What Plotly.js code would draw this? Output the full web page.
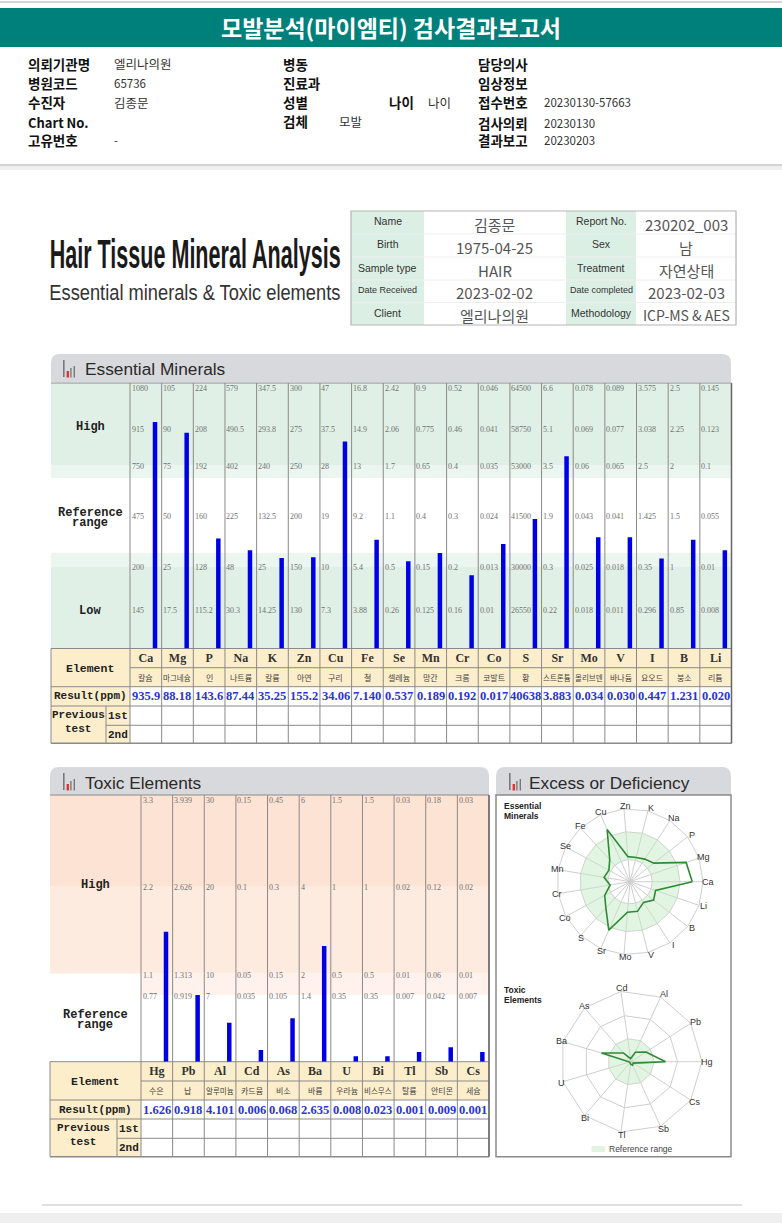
<!DOCTYPE html>
<html><head><meta charset="utf-8">
<script src="https://cdn.plot.ly/plotly-3.0.1.min.js"></script>
<style>html,body{margin:0;padding:0;background:#fff}#p{width:782px;height:1223px}</style>
</head><body><div id="p"></div>
<script>
const W = 782, H = 1223;
// ---------- Data ----------
const essSymbols = ['Ca','Mg','P','Na','K','Zn','Cu','Fe','Se','Mn','Cr','Co','S','Sr','Mo','V','I','B','Li'];
const essKorean = ['칼슘','마그네슘','인','나트륨','칼륨','아연','구리','철','셀레늄','망간','크롬','코발트','황','스트론튬','몰리브덴','바나듐','요오드','붕소','리튬'];
const essResult = ['935.9','88.18','143.6','87.44','35.25','155.2','34.06','7.140','0.537','0.189','0.192','0.017','40638','3.883','0.034','0.030','0.447','1.231','0.020'];
const essLevel = [85.3,81.3,41.4,37.0,34.1,34.4,78.0,41.0,32.9,36.0,27.6,39.4,48.8,72.4,41.9,41.9,33.9,41.0,37.0];
const essTop = ['1080','105','224','579','347.5','300','47','16.8','2.42','0.9','0.52','0.046','64500','6.6','0.078','0.089','3.575','2.5','0.145'];
const essHigh = ['915','90','208','490.5','293.8','275','37.5','14.9','2.06','0.775','0.46','0.041','58750','5.1','0.069','0.077','3.038','2.25','0.123'];
const essUpper = ['750','75','192','402','240','250','28','13','1.7','0.65','0.4','0.035','53000','3.5','0.06','0.065','2.5','2','0.1'];
const essMid = ['475','50','160','225','132.5','200','19','9.2','1.1','0.4','0.3','0.024','41500','1.9','0.043','0.041','1.425','1.5','0.055'];
const essLower = ['200','25','128','48','25','150','10','5.4','0.5','0.15','0.2','0.013','30000','0.3','0.025','0.018','0.35','1','0.01'];
const essLow = ['145','17.5','115.2','30.3','14.25','130','7.3','3.88','0.26','0.125','0.16','0.01','26550','0.22','0.018','0.011','0.296','0.85','0.008'];
const essRows = [essTop,essHigh,essUpper,essMid,essLower,essLow];
const essRowLevels = [98.1,82.6,68.5,49.6,30.4,14.3];

const toxSymbols = ['Hg','Pb','Al','Cd','As','Ba','U','Bi','Tl','Sb','Cs'];
const toxKorean = ['수은','납','알루미늄','카드뮴','비소','바륨','우라늄','비스무스','탈륨','안티몬','세슘'];
const toxResult = ['1.626','0.918','4.101','0.006','0.068','2.635','0.008','0.023','0.001','0.009','0.001'];
const toxLevel = [48.75,25.0,14.6,4.4,16.25,43.4,2.0,2.0,3.6,5.4,3.6];
const toxTop = ['3.3','3.939','30','0.15','0.45','6','1.5','1.5','0.03','0.18','0.03'];
const toxHigh = ['2.2','2.626','20','0.1','0.3','4','1','1','0.02','0.12','0.02'];
const toxUpper = ['1.1','1.313','10','0.05','0.15','2','0.5','0.5','0.01','0.06','0.01'];
const toxRef = ['0.77','0.919','7','0.035','0.105','1.4','0.35','0.35','0.007','0.042','0.007'];
const toxRows = [toxTop,toxHigh,toxUpper,toxRef];
const toxRowLevels = [98,65.5,32.5,24.6];

const infoLeft = [['의뢰기관명','엘리나의원'],['병원코드','65736'],['수진자','김종문'],['Chart No.',''],['고유번호','-']];
const infoMid = ['병동','진료과','성별','','검체'];
const infoRight = [['담당의사',''],['임상정보',''],['접수번호','20230130-57663'],['검사의뢰','20230130'],['결과보고','20230203']];
const infoRowY = [64,83,102,123,140];
const idTable = [['Name','김종문','Report No.','230202_003'],['Birth','1975-04-25','Sex','남'],['Sample type','HAIR','Treatment','자연상태'],['Date Received','2023-02-02','Date completed','2023-02-03'],['Client','엘리나의원','Methodology','ICP-MS & AES']];

// ---------- Helpers ----------
const px = x => x / W, py = y => 1 - y / H;
const KR = '"Noto Sans CJK KR","Noto Sans",sans-serif', MONO = '"Liberation Mono",monospace', SANS = '"Liberation Sans",Arial,sans-serif', SERIF = '"Liberation Serif",serif';
const shapes = [], annotations = [];
const rect = (x0,y0,x1,y1,fill,line,lw) => shapes.push({type:'rect',xref:'paper',yref:'paper',x0:px(x0),x1:px(x1),y0:py(y0),y1:py(y1),fillcolor:fill||'rgba(0,0,0,0)',line:{color:line||'rgba(0,0,0,0)',width:line?(lw||1):0},layer:'below'});
const line = (x0,y0,x1,y1,c,w) => shapes.push({type:'line',xref:'paper',yref:'paper',x0:px(x0),x1:px(x1),y0:py(y0),y1:py(y1),line:{color:c,width:w||1},layer:'below'});
const txt = (x,y,t,size,color,family,anchor,weight) => annotations.push({xref:'paper',yref:'paper',x:px(x),y:py(y),text:t,showarrow:false,xanchor:anchor||'center',yanchor:'middle',borderpad:0,font:{size,color:color||'#222',family:family||SANS,weight:weight||'normal'}});
function tab(x0,y0,x1,y1){const r=9;
  shapes.push({type:'path',xref:'paper',yref:'paper',layer:'below',fillcolor:'#d8d9dd',line:{width:0},
   path:`M ${px(x0)} ${py(y1)} L ${px(x0)} ${py(y0+r)} Q ${px(x0)} ${py(y0)} ${px(x0+r)} ${py(y0)} L ${px(x1-r)} ${py(y0)} Q ${px(x1)} ${py(y0)} ${px(x1)} ${py(y0+r)} L ${px(x1)} ${py(y1)} Z`});}
function icon(x,y){ rect(x,y,x+1.6,y+17,'#77787c'); rect(x+3.6,y+11,x+6,y+17.5,'#e2332c'); rect(x+7.2,y+8,x+8.6,y+17.5,'#77787c'); rect(x+10.6,y+6,x+12,y+17.5,'#77787c'); }

// ---------- Header ----------
line(0,2,W,2,'#aaaaaa',1);
rect(0,8,W,47,'#00807a');
rect(0,166,W,170,'#efefef'); line(0,165,W,165,'#a8a8a8',1);
rect(0,1213,W,H,'#efefef'); line(42,1205,742,1205,'#c0c0c0',1);
const lblSize = t => /^[A-Za-z]/.test(t) ? 13 : 13.5;
const valSize = t => /^[0-9-]/.test(t) ? 11.5 : 12.5;
infoLeft.forEach((r,i)=>{ txt(27,infoRowY[i],r[0],lblSize(r[0]),'#111',KR,'left','bold'); if(r[1]) txt(113,infoRowY[i],r[1],valSize(r[1]),'#333',KR,'left'); });
infoMid.forEach((t,i)=>{ if(t) txt(282,i===4?121:infoRowY[i],t,13.5,'#111',KR,'left','bold'); });
txt(388,102,'나이',13.5,'#111',KR,'left','bold'); txt(427,102,'나이',12.5,'#333',KR,'left'); txt(338,121,'모발',12.5,'#333',KR,'left');
infoRight.forEach((r,i)=>{ txt(477,infoRowY[i],r[0],13.5,'#111',KR,'left','bold'); if(r[1]) txt(543,infoRowY[i],r[1],valSize(r[1]),'#333',KR,'left'); });

// ---------- Title block ----------
const headline = 'Hair Tissue Mineral Analysis', subhead = 'Essential minerals & Toxic elements';
txt(194.5,255,headline,21.5,'#1a1a1a',SANS,'center','bold');
txt(194.5,292,subhead.replace('&','&amp;'),18.7,'#333',SANS,'center');
const idX=[351,424,566,636,736], idY=[211,234,257,280,302.5,325];
idTable.forEach((row,r)=>{
  rect(idX[0],idY[r],idX[1],idY[r+1],'#dcefe4'); rect(idX[2],idY[r],idX[3],idY[r+1],'#dcefe4');
  row.forEach((t,c)=>{ const lbl=c%2===0; const s=lbl?(t.length>12?9:10.5):(t.length>10?14:15);
    txt((idX[c]+idX[c+1])/2,(idY[r]+idY[r+1])/2+(lbl?-1:1.5),t.replace('&','&amp;'),s,lbl?'#333':'#555',lbl?SANS:KR); });
  if(r) line(idX[0],idY[r],idX[4],idY[r],'#eeeeee',1);
});
rect(351,211,736,325,null,'#b5b5b5',1.2);

// ---------- Section tabs ----------
tab(51,354,731,382); icon(63,360); txt(84,369,'Essential Minerals',17.3,'#2a2a2a',SANS,'left');
tab(50,767,489,795); icon(63,773); txt(84,783,'Toxic Elements',17.3,'#2a2a2a',SANS,'left');
tab(496,767,731,795); icon(509,773); txt(528,783,'Excess or Deficiency',17.3,'#2a2a2a',SANS,'left');

// ---------- Panels ----------
const E = {x0:130,x1:731.5,top:383,bot:648.5,left:51,rows:[667.7,686.7,706,725.3,743.3],prev:106};
const T = {x0:141,x1:489,top:795,bot:1061.7,left:50,rows:[1081,1100,1119,1138.3,1156.7],prev:117};
const CREAM='#fdeecb', GRID='#8a8a8a';
rect(E.left,E.top,E.x1,465,'#e0f0e6'); rect(E.left,465,E.x1,478,'#ecf6f0');
rect(E.left,553,E.x1,566.5,'#ecf6f0'); rect(E.left,566.5,E.x1,E.bot,'#e0f0e6');
rect(T.left,T.top,T.x1,886.7,'#fde3d3'); rect(T.left,886.7,T.x1,973.5,'#fdebe0'); rect(T.x0,973.5,T.x1,995,'#fff2ec');

function panel(P,n){
  const cw=(P.x1-P.x0)/n, R=P.rows;
  rect(P.left,P.bot,P.x1,R[1],CREAM);
  rect(P.left,R[1],P.x0,R[4],CREAM);
  for(let i=0;i<=n;i++) line(P.x0+i*cw,P.top,P.x0+i*cw,R[4],GRID,1);
  line(P.left,P.bot,P.x1,P.bot,GRID,1); line(P.x0,R[0],P.x1,R[0],GRID,1);
  [R[1],R[2]].forEach(y=>line(P.left,y,P.x1,y,GRID,1));
  line(P.prev,R[3],P.x1,R[3],GRID,1); line(P.left,R[4],P.x1,R[4],GRID,1.5);
  line(P.prev,R[2],P.prev,R[4],GRID,1); line(P.left,P.bot,P.left,R[4],GRID,1);
  line(P.x1,P.top,P.x1,R[4],'#666',1.5); line(P.left,P.top,P.x1,P.top,GRID,1);
}
panel(E,essSymbols.length);
panel(T,toxSymbols.length);

function cellTexts(P,syms,kor,res,rows,levels,xa,ya){
  const R=P.rows, cw=(P.x1-P.x0)/syms.length;
  syms.forEach((s,i)=>{
    rows.forEach((row,k)=>annotations.push({xref:xa,yref:ya,x:s,y:levels[k],text:row[i],showarrow:false,xanchor:'left',yanchor:'middle',xshift:-cw/2+0.5,borderpad:0,font:{size:8,color:'#707070',family:SERIF}}));
    annotations.push({xref:xa,yref:'paper',x:s,y:py((R[0]+R[1])/2),text:kor[i],showarrow:false,yanchor:'middle',borderpad:0,font:{size:kor[i].length>3?7.5:8,color:'#444',family:KR}});
    annotations.push({xref:xa,yref:'paper',x:s,y:py((R[1]+R[2])/2),text:res[i],showarrow:false,yanchor:'middle',borderpad:0,font:{size:12.5,color:'#2a35d0',family:SERIF,weight:'bold'}});
  });
}
cellTexts(E,essSymbols,essKorean,essResult,essRows,essRowLevels,'x','y');
cellTexts(T,toxSymbols,toxKorean,toxResult,toxRows,toxRowLevels,'x2','y2');

const lab=(x,y,t,s)=>txt(x,y,t,s||12,'#222',MONO,'center','bold');
lab(90,427,'High'); lab(90,513,'Reference'); lab(90,523,'range'); lab(90,611,'Low');
lab(90,668,'Element',11.5); lab(90,696,'Result(ppm)',11); lab(78,715,'Previous',11); lab(78,729,'test',11); lab(118,716,'1st',11); lab(118,735,'2nd',11);
lab(95,885,'High'); lab(95,1015,'Reference'); lab(95,1025,'range');
lab(95,1081,'Element',11.5); lab(95,1110,'Result(ppm)',11); lab(83,1128,'Previous',11); lab(83,1142,'test',11); lab(129,1129,'1st',11); lab(129,1148,'2nd',11);

// ---------- Radar panel ----------
rect(496,795,731,1156.7,null,'#8a8a8a',1.5);
txt(503,806,'Essential',8.5,'#222',SANS,'left','bold'); txt(503,816,'Minerals',8.5,'#222',SANS,'left','bold');
txt(503,990,'Toxic',8.5,'#222',SANS,'left','bold'); txt(503,1000,'Elements',8.5,'#222',SANS,'left','bold');
rect(591.5,1146,605,1152,'#e2f3e1');
txt(608,1149,'Reference range',8.5,'#444',SANS,'left');
function spokeLabels(cats,cx,cy,r){
  cats.forEach((c,i)=>{ const a=2*Math.PI*i/cats.length;
    txt(cx+(r+3)*Math.cos(a)+2, cy-(r+3)*Math.sin(a), c, 9, '#333', SANS); });
}
const RE={cx:630,cy:881.7,r:73}, RT={cx:631,cy:1061.7,r:71};
spokeLabels(essSymbols,RE.cx,RE.cy,RE.r);
spokeLabels(toxSymbols,RT.cx,RT.cy,RT.r);

// ---------- Traces ----------
const close = a => a.concat([a[0]]);
const fillR = (cats,v) => cats.concat([cats[0]]).map(()=>v);
const essLoopT = close(essSymbols), toxLoopT = close(toxSymbols);
const barOpts = {type:'bar',width:0.142,offset:0.219,marker:{color:'#0000e6',line:{width:0}},hoverinfo:'x+y',showlegend:false};
const BAND='rgba(195,232,195,0.48)';
const data = [
  Object.assign({x:essSymbols,y:essLevel,xaxis:'x',yaxis:'y',name:'Essential Minerals'},barOpts),
  Object.assign({x:toxSymbols,y:toxLevel,xaxis:'x2',yaxis:'y2',name:'Toxic Elements'},barOpts),
  {type:'scatterpolar',subplot:'polar',mode:'lines',theta:essLoopT.concat([null],essLoopT.slice().reverse()),
   r:fillR(essSymbols,68.5).concat([null],fillR(essSymbols,30.4)),fill:'toself',fillcolor:BAND,line:{width:0},showlegend:false,hoverinfo:'skip'},
  {type:'scatterpolar',subplot:'polar',mode:'lines',theta:essLoopT,r:close(essLevel),line:{color:'#2e8b34',width:1.6},showlegend:false,name:'Essential'},
  {type:'scatterpolar',subplot:'polar2',mode:'lines',theta:toxLoopT,r:fillR(toxSymbols,32.5),fill:'toself',fillcolor:BAND,line:{width:0},showlegend:false,hoverinfo:'skip'},
  {type:'scatterpolar',subplot:'polar2',mode:'lines',theta:toxLoopT,r:close(toxLevel),line:{color:'#2e8b34',width:1.6},showlegend:false,name:'Toxic'}
];

// ---------- Layout ----------
const catAxis = (dom,cats,anchor) => ({domain:[px(dom[0]),px(dom[1])],type:'category',categoryorder:'array',categoryarray:cats,range:[-0.5,cats.length-0.5],anchor,fixedrange:true,showgrid:false,zeroline:false,showline:false,ticks:'',ticklen:0,tickangle:0,tickfont:{family:SERIF,size:12,color:'#333',weight:'bold'}});
const valAxis = (P,anchor) => ({domain:[py(P.bot),py(P.top)],range:[0,100],visible:false,fixedrange:true,anchor});
const polar = (R,cats,ticks) => ({domain:{x:[px(R.cx-R.r),px(R.cx+R.r)],y:[py(R.cy+R.r),py(R.cy-R.r)]},bgcolor:'rgba(0,0,0,0)',gridshape:'linear',
  radialaxis:{range:[0,100],tickvals:ticks,showticklabels:false,ticks:'',showline:false,gridcolor:'#cfcfcf',gridwidth:1,angle:0},
  angularaxis:{type:'category',categoryorder:'array',categoryarray:cats,direction:'counterclockwise',rotation:0,gridcolor:'#cfcfcf',linecolor:'#cfcfcf',linewidth:1,ticks:'',showticklabels:false}});
const layout = {
  width:W,height:H,autosize:false,margin:{l:0,r:0,t:0,b:0},paper_bgcolor:'#fff',plot_bgcolor:'rgba(0,0,0,0)',showlegend:false,barmode:'overlay',
  title:{text:'<b>모발분석(마이엠티) 검사결과보고서</b>',x:0.5,xanchor:'center',xref:'paper',y:py(28.5),yref:'paper',yanchor:'middle',font:{family:KR,size:23,color:'#fff'},automargin:false},
  xaxis:catAxis([E.x0,E.x1],essSymbols,'y'),yaxis:valAxis(E,'x'),
  xaxis2:catAxis([T.x0,T.x1],toxSymbols,'y2'),yaxis2:valAxis(T,'x2'),
  polar:polar(RE,essSymbols,[30.4,68.5,100]),
  polar2:polar(RT,toxSymbols,[32.5,65.5,100]),
  shapes,annotations
};
Plotly.newPlot('p',data,layout,{displayModeBar:false,staticPlot:true}).then(()=>{
  // the reference's condensed headline: tall narrow letters at the printed width
  const stretch = {[headline]:1.86,[subhead]:1.15};
  document.querySelectorAll('.annotation-text').forEach(t=>{
    const k = stretch[t.textContent];
    if(k){ const b=t.getBBox(), c=b.y+b.height/2;
      t.setAttribute('textLength','291'); t.setAttribute('lengthAdjust','spacingAndGlyphs');
      t.setAttribute('transform',`translate(0 ${c}) scale(1 ${k}) translate(0 ${-c})`); }
  });
});
</script></body></html>
